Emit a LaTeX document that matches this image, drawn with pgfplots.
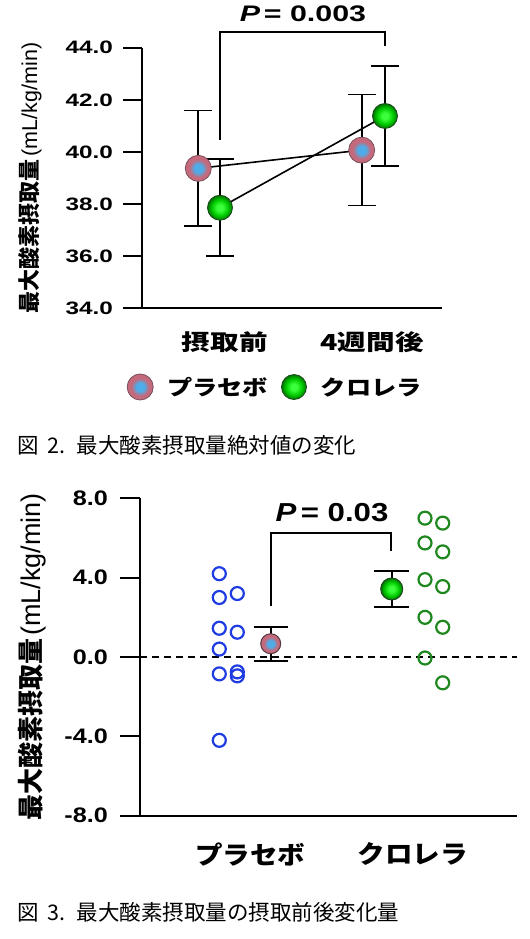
\documentclass[border=0pt]{standalone}
\usepackage{fontspec}
\setmainfont{Liberation Sans}
\newfontfamily\lsA[FakeStretch=1.35]{Liberation Sans}
\newfontfamily\lsB[FakeStretch=1.2]{Liberation Sans}
\newfontfamily\jp{Noto Sans CJK JP}
\newfontfamily\jpA[FakeStretch=1.3]{Noto Sans CJK JP}
\newfontfamily\jpL[FakeStretch=1.2]{Noto Sans CJK JP}
\newfontfamily\jpB[FakeStretch=1.1]{Noto Sans CJK JP}
\usepackage{pgfplots}
\pgfplotsset{compat=1.18}

\definecolor{pmauve}{RGB}{196,106,124}
\definecolor{pblue}{RGB}{78,172,232}
\definecolor{pedge}{RGB}{120,80,92}
\definecolor{gbright}{RGB}{60,255,60}
\definecolor{gmid}{RGB}{0,205,0}
\definecolor{gdark}{RGB}{0,115,0}
\definecolor{gedge}{RGB}{30,70,30}
\definecolor{dotblue}{RGB}{30,60,225}
\definecolor{dotgreen}{RGB}{30,135,30}

\pgfdeclareradialshading{placeboshade}{\pgfpointorigin}{color(0bp)=(pblue); color(8bp)=(pblue); color(17bp)=(pmauve); color(25bp)=(pmauve); color(50bp)=(pmauve)}
\pgfdeclareradialshading{chlorshade}{\pgfpointorigin}{color(0bp)=(gbright); color(6bp)=(gbright); color(16bp)=(gmid); color(25bp)=(gdark); color(50bp)=(gdark)}

\pgfdeclareplotmark{placebo}{%
  \pgfpathcircle{\pgfpointorigin}{\pgfplotmarksize}%
  \pgfshadepath{placeboshade}{0}%
  \pgfpathcircle{\pgfpointorigin}{\pgfplotmarksize}%
  \pgfusepathqstroke}
\pgfdeclareplotmark{chlor}{%
  \pgfpathcircle{\pgfpointorigin}{\pgfplotmarksize}%
  \pgfshadepath{chlorshade}{0}%
  \pgfpathcircle{\pgfpointorigin}{\pgfplotmarksize}%
  \pgfusepathqstroke}

\begin{document}
\begin{tikzpicture}
\useasboundingbox (0,0) rectangle (530bp,-939bp);

% ---------------- Figure 2 ----------------
\begin{axis}[
  at={(141.7bp,-308.3bp)}, anchor=south west,
  scale only axis, width=300bp, height=260.6bp,
  xmin=141.7, xmax=441.7, ymin=34, ymax=44,
  clip=false,
  axis x line*=bottom, axis y line*=left,
  axis line style={line width=1.9bp, black},
  tick align=outside, major tick length=18.7bp,
  ytick={34,36,38,40,42,44},
  yticklabels={34.0,36.0,38.0,40.0,42.0,44.0},
  ytick style={line width=1.9bp, black},
  yticklabel style={font=\lsA\bfseries\fontsize{18bp}{18bp}\selectfont, inner sep=0pt, xshift=-10bp},
  xtick={224.7,372},
  xticklabels={摂取前,4週間後},
  xtick style={draw=none},
  xticklabel style={font=\jpA\bfseries\fontsize{22bp}{22bp}\selectfont, inner sep=0pt, yshift=-4bp},
  ylabel={{\jp\bfseries\fontsize{22bp}{22bp}\selectfont 最大酸素摂取量}\hspace{3bp}{\fontsize{21.5bp}{21.5bp}\selectfont (mL/kg/min)}},
  ylabel style={at={(rel axis cs:-0.3723,0.5)}, anchor=center},
  legend image code/.code={\path[draw=none, fill=none] (-13bp,-13bp) rectangle (13bp,13bp); \draw[#1] plot coordinates {(0bp,0bp)};},
  legend style={at={(-0.049,-0.302)}, anchor=west, draw=none, fill=none, inner sep=0pt,
    legend columns=2, font=\jpL\bfseries\fontsize{21bp}{21bp}\selectfont,
    nodes={inner sep=0pt},
    /tikz/every odd column/.append style={column sep=14bp},
    /tikz/every even column/.append style={column sep=13bp}},
]
\addplot[line width=1.6bp, black, forget plot] coordinates {(198.3,39.37) (361.7,40.07)};
\addplot[line width=1.6bp, black, forget plot] coordinates {(220,37.86) (385,41.38)};
\addplot[black, forget plot, only marks, mark=chlor, mark size=12.5bp, mark options={draw=gedge, line width=0.8bp},
  error bars/.cd, y dir=both, y explicit,
  error bar style={line width=1.7bp, black},
  error mark options={rotate=90, mark size=14bp, line width=1.7bp, black}]
  coordinates {(220,37.86) +- (0,1.86) (385,41.38) +- (0,1.92)};
\addplot[black, only marks, mark=placebo, mark size=13bp, mark options={draw=pedge, line width=0.8bp},
  error bars/.cd, y dir=both, y explicit,
  error bar style={line width=1.7bp, black},
  error mark options={rotate=90, mark size=14bp, line width=1.7bp, black}]
  coordinates {(198.3,39.37) +- (0,2.22) (361.7,40.07) +- (0,2.13)};
\addlegendentry{プラセボ}
\addlegendimage{black, only marks, mark=chlor, mark size=12.5bp, mark options={draw=gedge, line width=0.8bp}}
\addlegendentry{クロレラ}
\draw[line width=1.6bp] (axis cs:220,40.46) -- (axis cs:220,44.61) -- (axis cs:385,44.61) -- (axis cs:385,44.07);
\node[font=\lsA\bfseries\fontsize{22.5bp}{22.5bp}\selectfont, inner sep=0pt] at (axis cs:303,45.31) {\textit{P}\,= 0.003};
\end{axis}

\node[anchor=west, inner sep=0pt, font=\jp\fontsize{21.5bp}{21.5bp}\selectfont] at (17bp,-445bp) {図\hspace{9bp}2.\hspace{11bp}最大酸素摂取量絶対値の変化};

% ---------------- Figure 3 ----------------
\begin{axis}[
  at={(140bp,-815.7bp)}, anchor=south west,
  scale only axis, width=376.7bp, height=317.4bp,
  xmin=140, xmax=516.7, ymin=-8, ymax=8,
  clip=false,
  axis x line*=bottom, axis y line*=left,
  axis line style={line width=2bp, black},
  tick align=outside, major tick length=20bp,
  ytick={-8,-4,0,4,8},
  yticklabels={-8.0,-4.0,0.0,4.0,8.0},
  ytick style={line width=2bp, black},
  yticklabel style={font=\lsB\bfseries\fontsize{21bp}{21bp}\selectfont, inner sep=0pt, xshift=-12bp},
  xtick={250,412.5},
  xticklabels={プラセボ,クロレラ},
  xtick style={draw=none},
  xticklabel style={font=\jpB\bfseries\fontsize{25bp}{25bp}\selectfont, inner sep=0pt, yshift=-7bp},
  ylabel={{\jp\bfseries\fontsize{26bp}{26bp}\selectfont 最大酸素摂取量}\hspace{3bp}{\fontsize{27bp}{27bp}\selectfont (mL/kg/min)}},
  ylabel style={at={(rel axis cs:-0.2867,0.5)}, anchor=center},
]
\addplot[black, line width=1.7bp, dash pattern=on 7bp off 5bp, forget plot] coordinates {(140,0) (516.7,0)};
\addplot[dotblue, only marks, mark=o, mark size=6.5bp, line width=2.2bp]
  coordinates {(219.3,4.2) (219.3,3.0) (219.3,1.45) (219.3,0.4) (219.3,-0.85) (219.3,-4.2)
               (237.3,3.2) (237.3,1.25) (237.3,-0.75) (237.3,-0.95)};
\addplot[dotgreen, only marks, mark=o, mark size=6.5bp, line width=2.2bp]
  coordinates {(425,7.0) (425,5.75) (425,3.9) (425,2.0) (425,-0.05)
               (442.7,6.75) (442.7,5.3) (442.7,3.55) (442.7,1.5) (442.7,-1.3)};
\addplot[black, only marks, mark=placebo, mark size=10bp, mark options={draw=pedge!70!black, line width=1bp},
  error bars/.cd, y dir=both, y explicit,
  error bar style={line width=2bp, black},
  error mark options={rotate=90, mark size=17bp, line width=2bp, black}]
  coordinates {(270.7,0.67) +- (0,0.85)};
\addplot[black, only marks, mark=chlor, mark size=11bp, mark options={draw=gedge, line width=1bp},
  error bars/.cd, y dir=both, y explicit,
  error bar style={line width=2bp, black},
  error mark options={rotate=90, mark size=17.5bp, line width=2bp, black}]
  coordinates {(391.7,3.43) +- (0,0.93)};
\draw[line width=2bp] (axis cs:270.7,2.56) -- (axis cs:270.7,6.25) -- (axis cs:390.7,6.25) -- (axis cs:390.7,5.33);
\node[font=\lsB\bfseries\fontsize{26bp}{26bp}\selectfont, inner sep=0pt] at (axis cs:332,7.30) {\textit{P}\,= 0.03};
\end{axis}

\node[anchor=west, inner sep=0pt, font=\jp\fontsize{21.5bp}{21.5bp}\selectfont] at (17bp,-912bp) {図\hspace{9bp}3.\hspace{11bp}最大酸素摂取量の摂取前後変化量};
\end{tikzpicture}
\end{document}
